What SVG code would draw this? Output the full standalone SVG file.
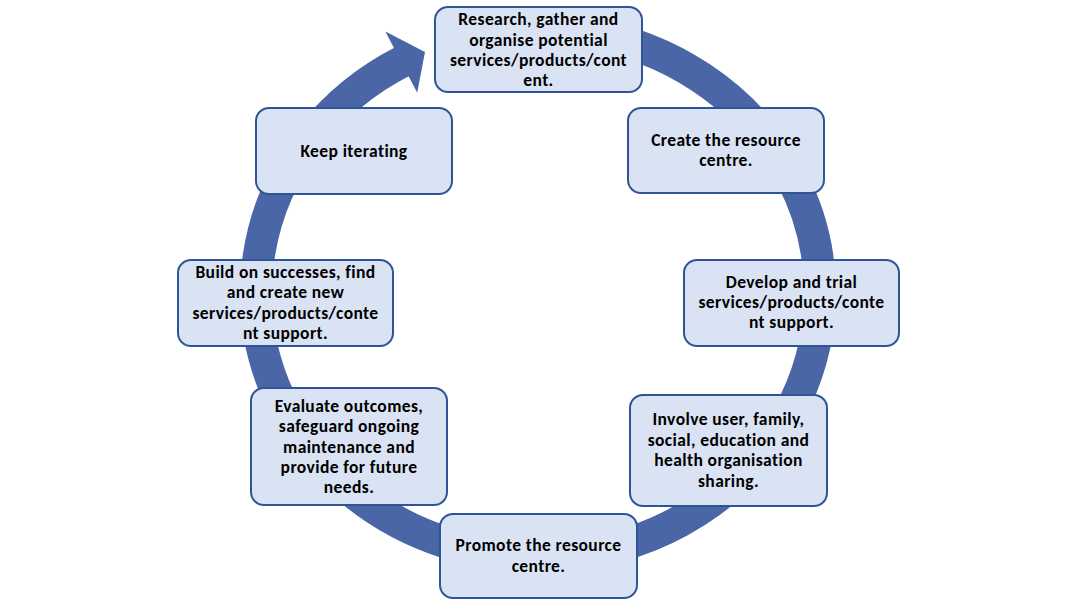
<svg xmlns="http://www.w3.org/2000/svg" width="1077" height="600" viewBox="0 0 1077 600">
<style>
.node rect { fill:#DAE3F3; stroke:#2F5597; stroke-width:2; }
.node text { font-family: Carlito, Calibri, Lato, 'Liberation Sans', sans-serif; font-weight:bold; font-size:17.5px; letter-spacing:0.4px; fill:#000; text-anchor:middle; }
.ring { fill:none; stroke:#4A66A6; stroke-width:32; }
.head { fill:#4A66A6; }
</style>
<rect width="1077" height="600" fill="#fff"/>
<g id="connectors">
<path class="ring" d="M 587 33 A 282 264 0 1 1 403.4 61.0"/>
<polygon class="head" points="385.4,31.5 425,52 417.2,92.7"/>
</g>
<g id="node-research" class="node">
<rect x="435" y="7" width="207" height="85" rx="13"/>
<text><tspan x="538.5" y="25">Research, gather and</tspan><tspan x="538.5" y="45.5">organise potential</tspan><tspan x="538.5" y="66">services/products/cont</tspan><tspan x="538.5" y="86">ent.</tspan></text>
</g>
<g id="node-create" class="node">
<rect x="628" y="108" width="196" height="85" rx="13"/>
<text><tspan x="726" y="145.7">Create the resource</tspan><tspan x="726" y="166">centre.</tspan></text>
</g>
<g id="node-develop" class="node">
<rect x="684" y="260" width="215" height="86" rx="13"/>
<text><tspan x="791.5" y="287.5">Develop and trial</tspan><tspan x="791.5" y="307.5">services/products/conte</tspan><tspan x="791.5" y="328">nt support.</tspan></text>
</g>
<g id="node-involve" class="node">
<rect x="630" y="395" width="197" height="111" rx="13"/>
<text><tspan x="728.5" y="425">Involve user, family,</tspan><tspan x="728.5" y="445.5">social, education and</tspan><tspan x="728.5" y="466">health organisation</tspan><tspan x="728.5" y="486.5">sharing.</tspan></text>
</g>
<g id="node-promote" class="node">
<rect x="440" y="514" width="197" height="84" rx="13"/>
<text><tspan x="538.5" y="551.2">Promote the resource</tspan><tspan x="538.5" y="571.7">centre.</tspan></text>
</g>
<g id="node-evaluate" class="node">
<rect x="251" y="388" width="196" height="117" rx="13"/>
<text><tspan x="349" y="411.5">Evaluate outcomes,</tspan><tspan x="349" y="432">safeguard ongoing</tspan><tspan x="349" y="452.5">maintenance and</tspan><tspan x="349" y="473">provide for future</tspan><tspan x="349" y="493">needs.</tspan></text>
</g>
<g id="node-build" class="node">
<rect x="178" y="260" width="215" height="86" rx="13"/>
<text><tspan x="285.5" y="277.5">Build on successes, find</tspan><tspan x="285.5" y="298">and create new</tspan><tspan x="285.5" y="318.5">services/products/conte</tspan><tspan x="285.5" y="339">nt support.</tspan></text>
</g>
<g id="node-keep" class="node">
<rect x="256" y="108" width="196" height="86" rx="13"/>
<text><tspan x="354" y="156.5">Keep iterating</tspan></text>
</g>
</svg>
